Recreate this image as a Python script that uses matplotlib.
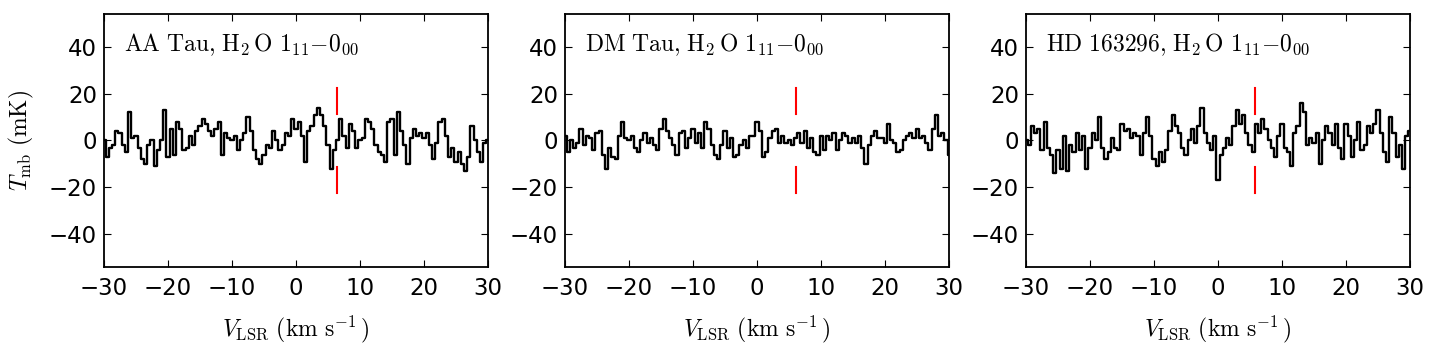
import numpy as np
import matplotlib
matplotlib.use('Agg')
import matplotlib.pyplot as plt

# channel velocities (km/s), 0.5 km/s grid
velocity = np.arange(-30.0, 30.01, 0.5)

# brightness temperatures (mK)
aa_tau = [0, -7, -3, -2, 4, 3, -2, -5, 12, 1, 2, -3, -8, -10, -2, 0, -11, -4, 0, 13,
          -7, 5, -6, 8, 5, -4, -3, 2, -2, 4, 6, 9, 7, 4, 2, 5, 8, -6, 3, 1,
          0, 2, -4, 0, 3, 10, 4, -4, -8, -10, -6, -2, -3, 4, 0, -4, -2, 3, 2, 9,
          5, 8, 2, -9, 4, 6, 11, 14, 11, 6, -2, -12, -4, 0, 9, 2, -3, 7, 4, -3,
          0, 1, 9, 8, 5, -2, -5, -6, -9, 8, 9, -6, 12, 4, -2, -10, 1, 5, 2, 3,
          1, 3, -2, -8, -1, 8, 9, 2, -7, -3, -9, -5, -10, -13, -7, 6, 0, -5, -9, -1,
          0]
dm_tau = [2, -5, 0, -3, -1, 5, -2, 2, 1, -4, 3, 4, -6, -12, -3, -7, -8, 2, 8, 1,
          0, 2, -3, -5, 0, 3, -1, 1, -2, -4, 5, 9, 4, 1, -2, -6, 3, 4, -3, 1,
          5, -1, 3, -3, 8, 5, -2, -6, -8, -2, 4, -3, 1, -7, -6, -2, 0, -3, 2, 2,
          8, 4, -7, -5, 1, 4, 5, -1, 2, -1, 0, -2, 1, 3, -1, 4, -3, 1, -5, -6,
          2, -4, 2, 0, 3, -4, 0, 3, 2, -1, 1, -1, 2, -3, -10, -2, 2, 4, 1, 1,
          -1, 7, 0, -1, -5, -4, 0, 2, 3, 1, 5, 1, 2, -1, -4, 5, 11, 2, 3, 0,
          -6]
hd_163296 = [0, -2, 6, 3, 5, -4, 8, -3, -6, -14, -4, -12, 2, -13, -2, -5, 3, -4, 2, -12,
             -3, 3, 0, 10, -3, -8, -5, 1, -3, -4, 7, 4, 5, 1, 3, 2, -6, 3, 10, 2,
             -8, -11, -5, -9, -4, 4, 11, 6, 3, -3, -6, 0, 5, -1, 6, 14, 3, -1, -4, 2,
             -17, -6, -3, 1, -2, 6, 13, 7, 11, 3, -2, -5, 7, 3, 9, 5, 0, -3, -7, 2,
             7, -3, -5, -11, 3, 6, 16, 12, -2, 1, -1, 3, -10, 0, 6, 3, -2, 7, -3, -8,
             7, 2, -7, 0, 8, -4, -2, 6, 3, 7, 13, 3, -5, -9, 10, 3, -7, -2, -12, 2,
             4]

titles = [r'$\mathrm{AA\ Tau{,}\ H_2\,O\ 1_{11}{-}0_{00}}$',
          r'$\mathrm{DM\ Tau{,}\ H_2\,O\ 1_{11}{-}0_{00}}$',
          r'$\mathrm{HD\ 163296{,}\ H_2\,O\ 1_{11}{-}0_{00}}$']
source_vlsr = [6.4, 6.0, 5.8]
spectra = [aa_tau, dm_tau, hd_163296]

plt.rcParams['mathtext.fontset'] = 'cm'
plt.rcParams['font.family'] = 'DejaVu Sans'
plt.rcParams['xtick.direction'] = 'in'
plt.rcParams['ytick.direction'] = 'in'
plt.rcParams['xtick.top'] = True
plt.rcParams['ytick.right'] = True
plt.rcParams['xtick.major.size'] = 5
plt.rcParams['ytick.major.size'] = 5
plt.rcParams['xtick.major.pad'] = 7
plt.rcParams['ytick.major.pad'] = 5

fig = plt.figure(figsize=(14.32, 3.49), dpi=100)
lefts = [0.0726, 0.3946, 0.7165]

for i in range(3):
    ax = fig.add_axes([lefts[i], 0.235, 0.2682, 0.725])
    ax.plot(velocity, spectra[i], color='black', lw=1.7, drawstyle='steps-mid')
    ax.plot([source_vlsr[i]] * 2, [11.5, 22.5], color='red', lw=1.5)
    ax.plot([source_vlsr[i]] * 2, [-22.5, -11.5], color='red', lw=1.5)
    ax.set_xlim(-30, 30)
    ax.set_ylim(-54, 54)
    ax.set_xticks([-30, -20, -10, 0, 10, 20, 30])
    ax.set_yticks([-40, -20, 0, 20, 40])
    ax.tick_params(labelsize=16.5)
    for s in ax.spines.values():
        s.set_linewidth(1.3)
    ax.text(-26.9, 41, titles[i], fontsize=17, va='center', ha='left')
    ax.set_xlabel(r'$V_{\rm LSR}\ ({\rm km\ s}^{-1}\,)$', fontsize=17, labelpad=10)
    if i == 0:
        ax.set_ylabel(r'$T_{\rm mb}\ {\rm (mK)}$', fontsize=17, labelpad=9)

plt.savefig('out.png', dpi=100)
